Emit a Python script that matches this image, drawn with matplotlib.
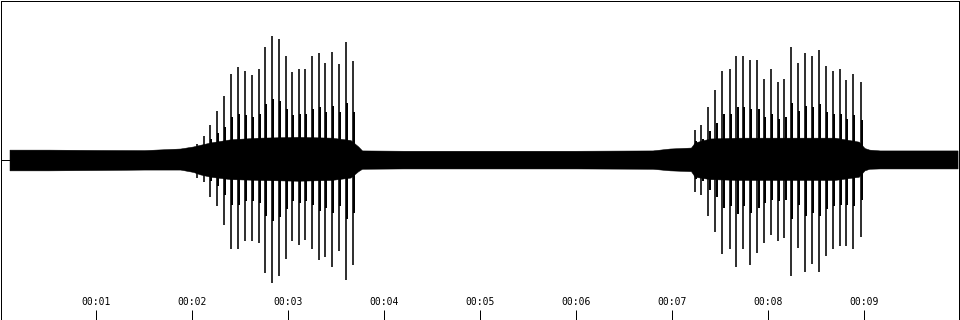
import matplotlib
matplotlib.use("Agg")
import matplotlib.pyplot as plt

# ---- data (time in seconds, amplitude in full-scale units) ----
tick_seconds = [1, 2, 3, 4, 5, 6, 7, 8, 9]
tick_labels = ["00:01", "00:02", "00:03", "00:04", "00:05", "00:06", "00:07", "00:08", "00:09"]

wave_start = 0.094

# background/body envelope of the waveform
env_t = [0.094, 0.5, 1.0, 1.5, 1.875, 2.01, 2.08, 2.19, 2.40, 2.70, 3.10, 3.45,
         3.65, 3.73, 3.77, 4.2, 5.0, 6.0, 6.8, 6.98, 7.20, 7.24, 7.40, 7.70,
         8.20, 8.70, 8.95, 9.01, 9.06, 9.17, 9.6, 9.98]
env_top = [0.065, 0.065, 0.063, 0.062, 0.072, 0.085, 0.095, 0.11, 0.13, 0.14, 0.145, 0.14,
           0.125, 0.085, 0.06, 0.058, 0.058, 0.058, 0.06, 0.072, 0.078, 0.11, 0.135, 0.14,
           0.14, 0.14, 0.115, 0.075, 0.065, 0.06, 0.06, 0.06]
env_bot = [-0.065, -0.065, -0.063, -0.06, -0.06, -0.075, -0.09, -0.105, -0.12, -0.125, -0.13, -0.125,
           -0.11, -0.07, -0.055, -0.053, -0.053, -0.053, -0.055, -0.065, -0.07, -0.105, -0.12, -0.125,
           -0.125, -0.125, -0.105, -0.065, -0.055, -0.053, -0.053, -0.053]

# main pulses of the two bursts
burst1_t = [2.049, 2.118, 2.188, 2.257, 2.326, 2.406, 2.476, 2.552, 2.618, 2.691, 2.753, 2.826,
            2.899, 2.972, 3.042, 3.115, 3.174, 3.243, 3.316, 3.385, 3.458, 3.528, 3.604, 3.674]
burst1_top = [0.10, 0.15, 0.22, 0.31, 0.40, 0.54, 0.58, 0.56, 0.53, 0.57, 0.71, 0.78,
              0.76, 0.65, 0.55, 0.57, 0.57, 0.65, 0.67, 0.61, 0.68, 0.60, 0.74, 0.62]
burst1_bot = [-0.11, -0.14, -0.23, -0.29, -0.41, -0.56, -0.56, -0.51, -0.51, -0.52, -0.71, -0.77,
              -0.73, -0.62, -0.51, -0.53, -0.50, -0.56, -0.63, -0.61, -0.67, -0.57, -0.75, -0.66]

burst2_t = [7.240, 7.309, 7.382, 7.455, 7.528, 7.604, 7.674, 7.743, 7.816, 7.893, 7.961, 8.034,
            8.107, 8.174, 8.243, 8.316, 8.389, 8.461, 8.534, 8.604, 8.677, 8.750, 8.820, 8.893, 8.969]
burst2_top = [0.19, 0.22, 0.33, 0.44, 0.56, 0.57, 0.65, 0.65, 0.63, 0.63, 0.51, 0.57,
              0.49, 0.51, 0.71, 0.61, 0.67, 0.65, 0.69, 0.59, 0.56, 0.57, 0.50, 0.54, 0.49]
burst2_bot = [-0.20, -0.22, -0.35, -0.45, -0.59, -0.56, -0.67, -0.56, -0.66, -0.58, -0.52, -0.47,
              -0.51, -0.49, -0.73, -0.55, -0.70, -0.65, -0.70, -0.60, -0.56, -0.54, -0.54, -0.56, -0.48]

# decaying ringing just after each pulse
echo1_t = [2.061, 2.130, 2.200, 2.269, 2.338, 2.418, 2.488, 2.564, 2.630, 2.703, 2.765, 2.838,
           2.911, 2.984, 3.054, 3.127, 3.186, 3.255, 3.328, 3.397, 3.470, 3.540, 3.616, 3.686]
echo1_top = [0.07, 0.09, 0.13, 0.17, 0.21, 0.27, 0.29, 0.28, 0.27, 0.29, 0.35, 0.38,
             0.37, 0.32, 0.28, 0.29, 0.29, 0.32, 0.33, 0.30, 0.34, 0.30, 0.36, 0.30]
echo1_bot = [-0.08, -0.09, -0.13, -0.16, -0.22, -0.28, -0.28, -0.26, -0.26, -0.27, -0.35, -0.38,
             -0.36, -0.31, -0.26, -0.27, -0.26, -0.28, -0.32, -0.30, -0.33, -0.29, -0.37, -0.33]

echo2_t = [7.252, 7.321, 7.394, 7.467, 7.540, 7.616, 7.686, 7.755, 7.828, 7.905, 7.973, 8.046,
           8.119, 8.186, 8.255, 8.328, 8.401, 8.473, 8.546, 8.616, 8.689, 8.762, 8.832, 8.905, 8.981]
echo2_top = [0.12, 0.13, 0.18, 0.23, 0.29, 0.29, 0.33, 0.33, 0.32, 0.32, 0.27, 0.29,
             0.26, 0.27, 0.36, 0.31, 0.34, 0.33, 0.35, 0.30, 0.29, 0.29, 0.26, 0.28, 0.25]
echo2_bot = [-0.12, -0.13, -0.19, -0.23, -0.30, -0.29, -0.34, -0.29, -0.33, -0.30, -0.27, -0.25,
             -0.26, -0.25, -0.37, -0.28, -0.35, -0.33, -0.35, -0.31, -0.29, -0.28, -0.28, -0.29, -0.25]

# ---- drawing ----
W, H = 960, 320
fig = plt.figure(figsize=(W / 100, H / 100), dpi=100)
ax = fig.add_axes([0.5 / W, 0.5 / H, (W - 1) / W, (H - 1) / H])
ax.set_xlim(0, 10)
ax.set_ylim(-1, 1)

px = 72 / 100  # one pixel in points

ax.fill_between(env_t, env_bot, env_top, color="black", linewidth=0.5 * px)
ax.vlines(echo1_t, echo1_bot, echo1_top, color="black", linewidth=2 * px)
ax.vlines(echo2_t, echo2_bot, echo2_top, color="black", linewidth=2 * px)
ax.vlines(burst1_t, burst1_bot, burst1_top, color="black", linewidth=1.6 * px)
ax.vlines(burst2_t, burst2_bot, burst2_top, color="black", linewidth=1.6 * px)
ax.hlines(0, 0, wave_start, color="black", linewidth=1 * px)

for s in ax.spines.values():
    s.set_linewidth(1 * px)
    s.set_color("black")

ax.set_yticks([])
ax.set_xticks(tick_seconds)
ax.set_xticklabels([])
ax.tick_params(axis="x", direction="in", length=10 * px, width=1 * px, color="black",
               bottom=True, top=False)

for t, lab in zip(tick_seconds, tick_labels):
    ax.text(t, -0.89, lab, ha="center", va="center", fontsize=7,
            family="DejaVu Sans Mono", color="black")

fig.savefig("out.png", dpi=100, facecolor="white")
